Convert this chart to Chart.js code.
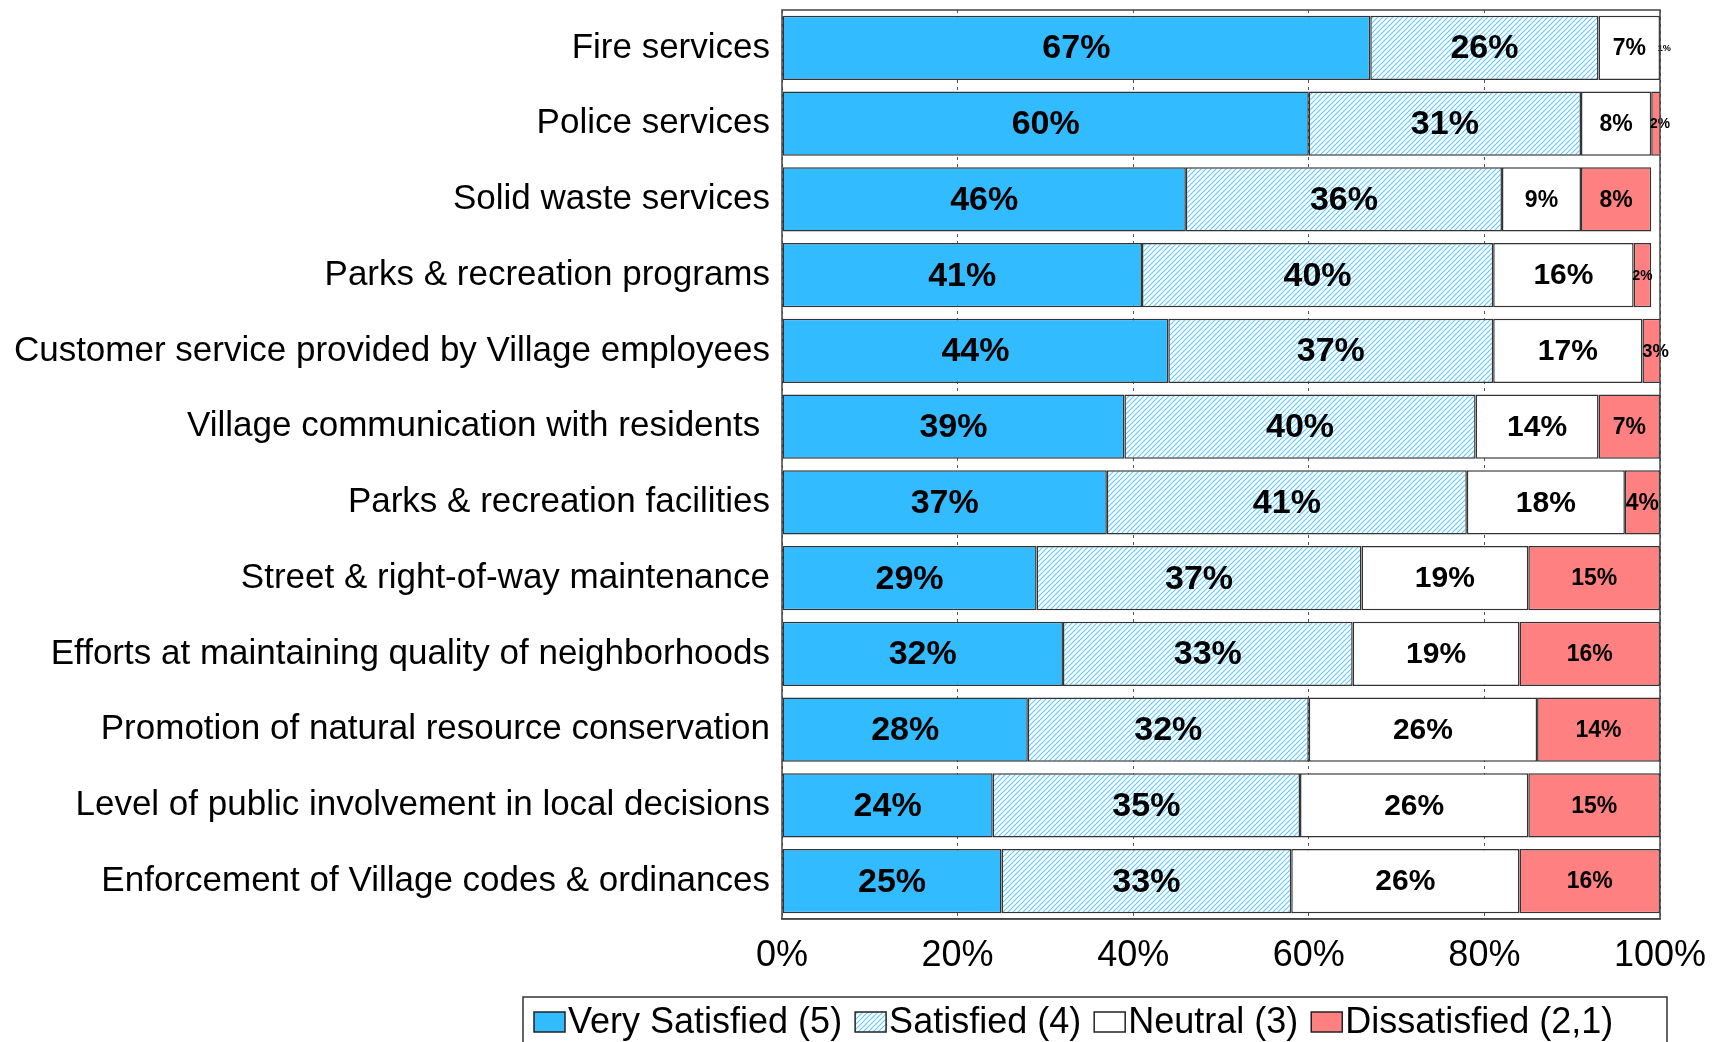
<!DOCTYPE html>
<html>
<head>
<meta charset="utf-8">
<script src="https://cdn.jsdelivr.net/npm/chart.js@4.4.0/dist/chart.umd.min.js"></script>
<style>
  html, body { margin: 0; padding: 0; background: #fff; }
  #wrap { width: 1712px; height: 1042px; position: relative; }
</style>
</head>
<body>
<div id="wrap"><canvas id="chart"></canvas></div>
<script>
const categories = [
  "Fire services",
  "Police services",
  "Solid waste services",
  "Parks & recreation programs",
  "Customer service provided by Village employees",
  "Village communication with residents ",
  "Parks & recreation facilities",
  "Street & right-of-way maintenance",
  "Efforts at maintaining quality of neighborhoods",
  "Promotion of natural resource conservation",
  "Level of public involvement in local decisions",
  "Enforcement of Village codes & ordinances"
]
const verySatisfied = [67, 60, 46, 41, 44, 39, 37, 29, 32, 28, 24, 25]
const satisfied     = [26, 31, 36, 40, 37, 40, 41, 37, 33, 32, 35, 33]
const neutral       = [7, 8, 9, 16, 17, 14, 18, 19, 19, 26, 26, 26]
const dissatisfied  = [1, 2, 8, 2, 3, 7, 4, 15, 16, 14, 15, 16]
const seriesNames = ["Very Satisfied (5)", "Satisfied (4)", "Neutral (3)", "Dissatisfied (2,1)"]
const xTicks = [0, 20, 40, 60, 80, 100]

const FONT = "'Liberation Sans', Arial, sans-serif"
const BLUE = "#33bbff"
const RED = "#ff8080"
const EDGE = "#333333"

// diagonal light-blue stripes on white for the "Satisfied" series
function makeHatch(color){
  const size = 5
  const c = document.createElement("canvas")
  c.width = size; c.height = size
  const g = c.getContext("2d")
  g.fillStyle = "#fff"
  g.fillRect(0, 0, size, size)
  g.strokeStyle = color
  g.lineWidth = 1.1
  g.beginPath()
  g.moveTo(0, size); g.lineTo(size, 0)
  g.moveTo(-1, 1); g.lineTo(1, -1)
  g.moveTo(size - 1, size + 1); g.lineTo(size + 1, size - 1)
  g.stroke()
  return g.createPattern(c, "repeat")
}
const hatch = makeHatch("#5cc8ff")

// label size: big segments get the series size, narrow ones shrink
const labelBase = [34, 34, 30, 23]
function labelSize(di, value, width){
  let base = labelBase[di]
  if (value < 10) base = Math.min(base, 23)
  return Math.max(8, Math.min(base, 4.5 + 0.53 * width))
}

const segmentLabels = {
  id: "segmentLabels",
  afterDatasetsDraw(chart){
    const ctx = chart.ctx
    ctx.save()
    ctx.fillStyle = "#000"
    ctx.textAlign = "center"
    ctx.textBaseline = "middle"
    chart.data.datasets.forEach((ds, di) => {
      const meta = chart.getDatasetMeta(di)
      meta.data.forEach((bar, i) => {
        const v = ds.data[i]
        const w = Math.abs(bar.x - bar.base)
        const size = labelSize(di, v, w)
        ctx.font = "bold " + size + "px " + FONT
        ctx.fillText(v + "%", (bar.x + bar.base) / 2, bar.y + 1)
      })
    })
    ctx.restore()
  }
}

// frame around the plot area plus the boxed legend under the axis
const frameAndLegend = {
  id: "frameAndLegend",
  afterDraw(chart){
    const ctx = chart.ctx
    const a = chart.chartArea
    ctx.save()
    ctx.strokeStyle = "#444"
    ctx.lineWidth = 1.5
    ctx.strokeRect(a.left, a.top, a.right - a.left, a.bottom - a.top)

    // legend box
    ctx.strokeStyle = "#333"
    ctx.lineWidth = 1.5
    ctx.strokeRect(523, 997, 1144, 60)
    ctx.font = "36px " + FONT
    ctx.textBaseline = "middle"
    ctx.textAlign = "left"
    let x = 534
    const y = 1022
    chart.data.datasets.forEach(ds => {
      ctx.fillStyle = ds.backgroundColor
      ctx.fillRect(x, y - 10, 31, 20)
      ctx.strokeStyle = "#222"
      ctx.lineWidth = 1.5
      ctx.strokeRect(x, y - 10, 31, 20)
      ctx.fillStyle = "#000"
      ctx.fillText(ds.label, x + 34, y + 1)
      x += 34 + ctx.measureText(ds.label).width + 13
    })
    ctx.restore()
  }
}

const seriesValues = [verySatisfied, satisfied, neutral, dissatisfied]
const seriesFills = [BLUE, hatch, "#ffffff", RED]

const datasets = seriesValues.map((vals, i) => ({
  label: seriesNames[i],
  data: vals,
  backgroundColor: seriesFills[i],
  borderColor: EDGE,
  borderWidth: 1.5,
  borderSkipped: false,
  categoryPercentage: 1,
  barPercentage: 0.85
}))

new Chart(document.getElementById("chart"), {
  type: "bar",
  data: { labels: categories, datasets: datasets },
  options: {
    indexAxis: "y",
    responsive: true,
    maintainAspectRatio: false,
    animation: false,
    layout: { padding: { top: 10, right: 52, bottom: 0, left: 0 } },
    plugins: {
      legend: { display: false },
      tooltip: { enabled: false }
    },
    scales: {
      x: {
        stacked: true,
        min: 0,
        max: 100,
        afterBuildTicks: s => { s.ticks = xTicks.map(v => ({ value: v })) },
        afterFit: s => { s.height = 123; s.paddingLeft = 0; s.paddingRight = 0 },
        grid: {
          color: "#555",
          lineWidth: 1,
          drawTicks: false
        },
        border: { display: true, color: "#444", width: 1.5, dash: [3, 4] },
        ticks: {
          padding: 15,
          maxRotation: 0,
          autoSkip: false,
          color: "#000",
          font: { family: FONT, size: 36 },
          callback: v => v + "%"
        }
      },
      y: {
        stacked: true,
        afterFit: s => { s.width = 782; s.paddingTop = 0; s.paddingBottom = 0 },
        grid: { display: false, drawTicks: false },
        border: { display: false },
        ticks: {
          padding: 12,
          color: "#000",
          font: { family: FONT, size: 35 }
        }
      }
    }
  },
  plugins: [segmentLabels, frameAndLegend]
})
</script>
</body>
</html>
